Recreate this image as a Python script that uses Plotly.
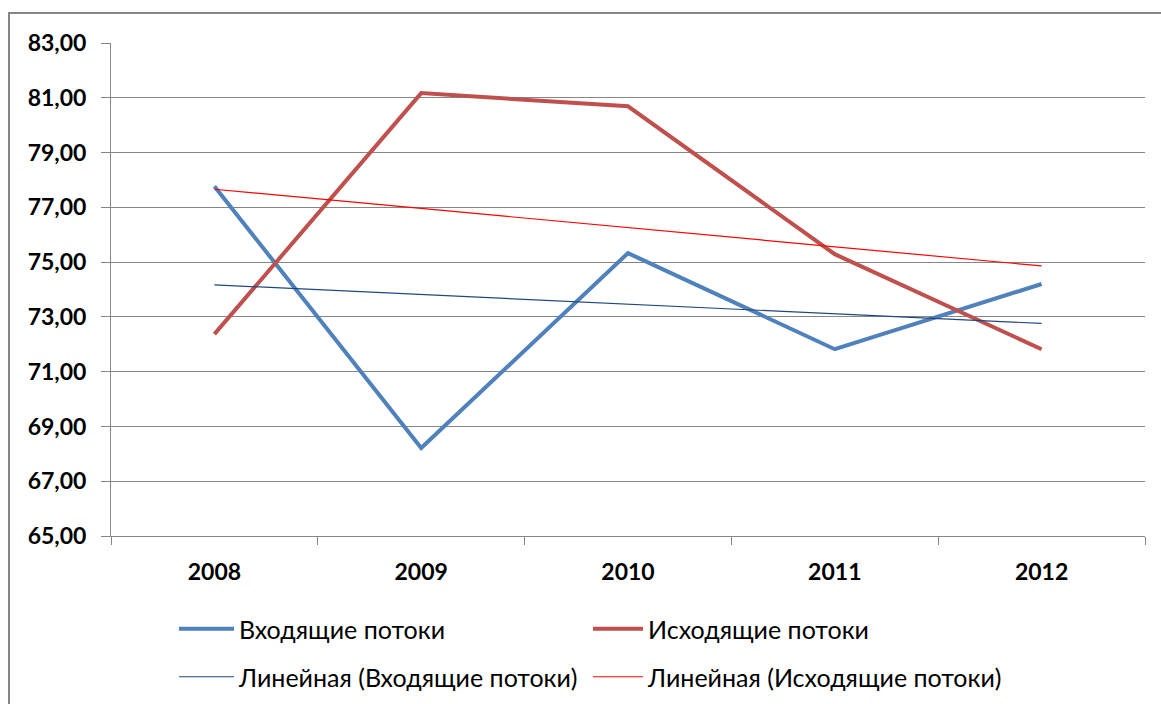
import plotly.graph_objects as go

years = ["2008", "2009", "2010", "2011", "2012"]
incoming = [77.77, 68.21, 75.33, 71.82, 74.20]
outgoing = [72.37, 81.17, 80.69, 75.29, 71.82]
trend_years = ["2008", "2012"]
trend_incoming = [74.17, 72.76]
trend_outgoing = [77.66, 74.86]

FONT = "Lato"
W, H = 1161, 704
L, R, T, B = 111, 16, 43, 168
pw, ph = W - L - R, H - T - B

def px(x):
    return (x - L) / pw

def py(y):
    return (H - B - y) / ph

fig = go.Figure()
fig.add_trace(go.Scatter(x=years, y=incoming, mode="lines", name="Входящие потоки",
                         line=dict(color="#4F81BD", width=4), legend="legend"))
fig.add_trace(go.Scatter(x=years, y=outgoing, mode="lines", name="Исходящие потоки",
                         line=dict(color="#C0504D", width=4), legend="legend2"))
fig.add_trace(go.Scatter(x=trend_years, y=trend_incoming, mode="lines", name="Линейная (Входящие потоки)",
                         line=dict(color="#1F497D", width=1.2), legend="legend3"))
fig.add_trace(go.Scatter(x=trend_years, y=trend_outgoing, mode="lines", name="Линейная (Исходящие потоки)",
                         line=dict(color="#FF0000", width=1.2), legend="legend4"))

legfont = dict(family=FONT, size=25, color="#000000")
tickfont = dict(family=FONT, size=23, color="#000000", weight="bold")


def leg(xpix, ypix, iw):
    return dict(orientation="h", xref="container", yref="container",
                x=xpix / W, xanchor="left", y=1 - ypix / H, yanchor="middle",
                font=legfont, bgcolor="rgba(0,0,0,0)", borderwidth=0, itemwidth=iw)


fig.update_layout(
    template="none",
    width=W, height=H,
    margin=dict(l=L, r=R, t=T, b=B),
    paper_bgcolor="white", plot_bgcolor="white",
    separators=", ",
    font=dict(family=FONT, size=17, color="#000000"),
    showlegend=True,
    legend=leg(174, 629, 55),
    legend2=leg(588, 629, 50),
    legend3=leg(174, 677, 55),
    legend4=leg(588, 677, 50),
    xaxis=dict(type="category", range=[-0.5, 4.5], showgrid=False, automargin=False,
               showline=True, linecolor="#868686", linewidth=1,
               ticks="outside", tickson="boundaries", ticklen=8, tickcolor="#868686",
               tickfont=tickfont, ticklabelstandoff=15, zeroline=False),
    yaxis=dict(range=[65, 83], dtick=2, tick0=65, tickformat=".2f", automargin=False,
               showgrid=True, gridcolor="#868686", gridwidth=1,
               showline=True, linecolor="#868686", linewidth=1,
               ticks="outside", ticklen=9, tickcolor="#868686",
               tickfont=tickfont, ticklabelstandoff=10, zeroline=False),
    shapes=[dict(type="rect", xref="paper", yref="paper",
                 x0=px(9), x1=px(W + 20), y0=py(H + 20), y1=py(13),
                 line=dict(color="#868686", width=2), fillcolor="rgba(0,0,0,0)",
                 layer="below")],
)

fig.write_html("out.html", config={"displayModeBar": False},
               post_script="document.body.style.margin='0';")
